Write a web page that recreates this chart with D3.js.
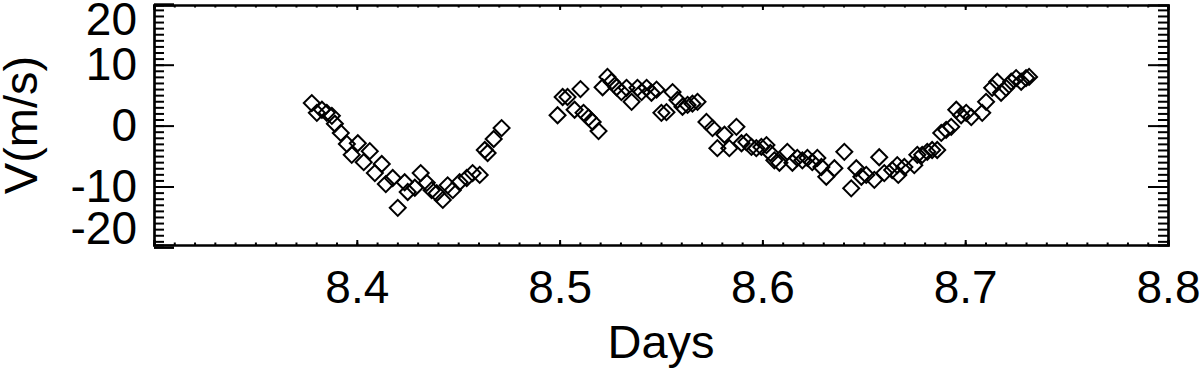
<!DOCTYPE html>
<html>
<head>
<meta charset="utf-8">
<script src="https://cdn.jsdelivr.net/npm/d3@7"></script>
<style>
body{margin:0;background:#fff;}
text{font-family:"Liberation Sans",Arial,Helvetica,sans-serif;fill:#000;}
</style>
</head>
<body>
<div id="chart"></div>
<script>
// radial velocity vs time
var days = [
	8.3778, 8.3803, 8.3828, 8.3852, 8.3877, 8.3892, 8.3921, 8.3951, 8.3975, 8.4005,
	8.4034, 8.4064, 8.4089, 8.4123, 8.4143, 8.4177, 8.4202, 8.4236, 8.4251, 8.4286,
	8.4315, 8.4345, 8.4369, 8.4394, 8.4424, 8.4448, 8.4473, 8.4507, 8.4542, 8.4571,
	8.4606, 8.4631, 8.4645, 8.4675, 8.4714,
	8.4990, 8.5015, 8.5039, 8.5074, 8.5103, 8.5118, 8.5143, 8.5163, 8.5192, 8.5212,
	8.5236, 8.5256, 8.5281, 8.5305, 8.5330, 8.5355, 8.5384, 8.5404, 8.5429, 8.5453,
	8.5478, 8.5502, 8.5527, 8.5557, 8.5581, 8.5606, 8.5631, 8.5655, 8.5680,
	8.5724, 8.5754, 8.5778, 8.5813, 8.5837, 8.5872, 8.5897, 8.5921, 8.5946, 8.5970,
	8.5995, 8.6020, 8.6039, 8.6059, 8.6084, 8.6123, 8.6148, 8.6172, 8.6197, 8.6222,
	8.6246, 8.6271, 8.6291, 8.6315, 8.6355, 8.6404, 8.6438, 8.6463, 8.6488, 8.6512,
	8.6552, 8.6576, 8.6601, 8.6640, 8.6665,
	8.6670, 8.6700, 8.6749, 8.6764, 8.6788, 8.6813, 8.6837, 8.6862, 8.6882, 8.6906,
	8.6931, 8.6956, 8.6980, 8.7005, 8.7030, 8.7084, 8.7103, 8.7133, 8.7158, 8.7177,
	8.7202, 8.7227, 8.7251, 8.7276, 8.7300, 8.7315
];
var vel = [
	3.7, 2.1, 2.6, 2.1, 1.6, 0.3, -1.2, -3.0, -4.8, -2.9,
	-6.0, -4.2, -7.8, -6.3, -9.6, -8.6, -13.5, -9.3, -10.9, -10.2,
	-7.8, -9.4, -10.6, -11.1, -12.2, -9.8, -10.6, -9.3, -8.6, -7.8,
	-8.1, -4.0, -4.5, -2.2, -0.4,
	1.7, 4.7, 4.7, 2.6, 6.0, 2.1, 1.3, 0.6, -0.9, 6.3,
	8.0, 7.2, 6.3, 5.5, 6.2, 3.9, 6.2, 5.5, 6.2, 5.4,
	5.9, 2.1, 2.2, 5.5, 4.2, 3.1, 3.4, 3.6, 3.9,
	0.6, -0.4, -3.7, -1.5, -3.7, -0.2, -2.9, -2.7, -3.5, -3.7,
	-3.5, -3.2, -4.5, -5.7, -6.1, -4.3, -6.1, -5.3, -5.7, -5.3,
	-6.0, -5.3, -6.8, -8.4, -7.0, -4.3, -10.3, -7.0, -8.4, -8.1,
	-8.9, -5.2, -7.8, -7.3, -6.5,
	-8.1, -6.8, -6.5, -4.8, -4.8, -4.3, -4.0, -4.0, -1.2, -0.7,
	-0.2, 2.6, 1.7, 2.1, 1.4, 2.1, 3.9, 6.2, 7.2, 5.4,
	6.2, 7.2, 7.8, 7.2, 7.8, 8.0
];
var xTickLabels = [8.4, 8.5, 8.6, 8.7, 8.8];
var xMajor = [8.3, 8.4, 8.5, 8.6, 8.7, 8.8];
var yTickLabels = [-20, -10, 0, 10, 20];
var yMajor = [-10, 0, 10];

var width = 1200, height = 368;
var pLeft = 154, pRight = 1168, pTop = 5, pBottom = 245;

var svg = d3.select("#chart")
	.append("svg")
	.attr("width", width)
	.attr("height", height);

var x = d3.scaleLinear().domain([8.3, 8.8]).range([pLeft, pRight]);
var y = d3.scaleLinear().domain([-19.6, 19.8]).range([pBottom, pTop]);

var xMinor = d3.range(830, 881).map(function(d){ return d/100; });
var yMinor = d3.range(-19, 20);

// minor ticks first, majors on top
svg.append("g").attr("transform", "translate(0,"+pBottom+")")
	.call(d3.axisBottom(x).tickValues(xMinor).tickSize(-2.5).tickFormat(""));
svg.append("g").attr("transform", "translate(0,"+pTop+")")
	.call(d3.axisTop(x).tickValues(xMinor).tickSize(-2.5).tickFormat(""));
svg.append("g").attr("transform", "translate("+pLeft+",0)")
	.call(d3.axisLeft(y).tickValues(yMinor).tickSize(-10).tickFormat(""));
svg.append("g").attr("transform", "translate("+pRight+",0)")
	.call(d3.axisRight(y).tickValues(yMinor).tickSize(-10).tickFormat(""));

var xAxis = svg.append("g").attr("class","xaxis").attr("transform", "translate(0,"+pBottom+")")
	.call(d3.axisBottom(x).tickValues(xMajor).tickSize(-5).tickPadding(25)
		.tickFormat(function(d){ return xTickLabels.indexOf(d) >= 0 ? d.toFixed(1) : ""; }));
svg.append("g").attr("transform", "translate(0,"+pTop+")")
	.call(d3.axisTop(x).tickValues(xMajor).tickSize(-5).tickFormat(""));
var yAxis = svg.append("g").attr("class","yaxis").attr("transform", "translate("+pLeft+",0)")
	.call(d3.axisLeft(y).tickValues(yTickLabels).tickSize(-20).tickPadding(17)
		.tickFormat(function(d){ return String(d); }));
svg.append("g").attr("transform", "translate("+pRight+",0)")
	.call(d3.axisRight(y).tickValues(yMajor).tickSize(-20).tickFormat(""));

svg.selectAll(".tick line").attr("stroke", "#000").attr("stroke-width", 2);
svg.selectAll(".domain").attr("stroke", "#000").attr("stroke-width", 2.2);
svg.selectAll(".tick text").attr("font-size", 46).attr("font-family", null).attr("fill", "#000");

// edge labels sit inside the frame
yAxis.selectAll(".tick text")
	.attr("y", function(d){
		if (d === 20) return pTop - y(20) + 15;
		if (d === -20) return pBottom - y(-20) - 16;
		return 0;
	});

svg.append("text")
	.attr("x", (pLeft+pRight)/2)
	.attr("y", 358)
	.attr("text-anchor", "middle")
	.attr("font-size", 47)
	.text("Days");

svg.append("text")
	.attr("transform", "translate(37,"+((pTop+pBottom)/2)+") rotate(-90)")
	.attr("text-anchor", "middle")
	.attr("font-size", 47)
	.text("V(m/s)");

var diamond = d3.symbol().type(d3.symbolSquare).size(128);

svg.append("g").selectAll("path")
	.data(days)
	.enter().append("path")
	.attr("d", diamond)
	.attr("transform", function(d,i){ return "translate("+x(d)+","+y(vel[i])+") rotate(45)"; })
	.attr("fill", "none")
	.attr("stroke", "#000")
	.attr("stroke-width", 2);
</script>
</body>
</html>
